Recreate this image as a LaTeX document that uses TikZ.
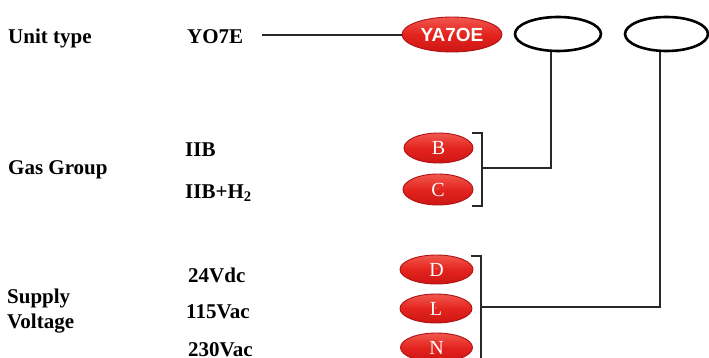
\documentclass[tikz,border=0pt]{standalone}
\usepackage{fontspec}
\setmainfont{Liberation Serif}
\newfontfamily\ovalsans{Liberation Sans}
\usetikzlibrary{shapes.geometric}
\definecolor{ovalred}{RGB}{228,36,30}
\definecolor{ovaltop}{RGB}{240,88,78}
\definecolor{ovalbot}{RGB}{205,22,20}
\definecolor{ovalrim}{RGB}{175,18,18}
\definecolor{linegray}{RGB}{40,40,40}
\tikzset{
  lbl/.style={anchor=base west, inner sep=0pt, font=\fontsize{21}{24}\selectfont\bfseries},
  redoval/.style={ellipse, inner sep=0pt, draw=ovalrim, line width=0.9pt,
    top color=ovaltop, bottom color=ovalbot, middle color=ovalred,
    text=white, font=\fontsize{20}{22}\selectfont,
    path picture={\draw[white,opacity=.55,line width=0.9pt]
      ([yshift=1pt]path picture bounding box.center) ++(200:0.45\pgfkeysvalueof{/pgf/minimum width} and 0.38\pgfkeysvalueof{/pgf/minimum height})
      arc[start angle=200,end angle=340,x radius=0.45\pgfkeysvalueof{/pgf/minimum width},y radius=0.38\pgfkeysvalueof{/pgf/minimum height}];}},
  blankoval/.style={ellipse, draw=black, line width=2.6pt, inner sep=0pt},
  conn/.style={draw=linegray, line width=1.3pt}
}
\begin{document}
\begin{tikzpicture}[x=1pt,y=-1pt]
\useasboundingbox[fill=white] (0,0) rectangle (709,358);
% left labels
\node[lbl] (unit) at (8,44) {Unit type};
\node[lbl] (gas) at (8,175) {Gas Group};
\node[lbl] (sup1) at (7,303) {Supply};
\node[lbl] (sup2) at (7,328) {Voltage};
% middle values
\node[lbl] (yo7e) at (187,44) {YO7E};
\node[lbl] (iib) at (185,157) {IIB};
\node[lbl] (iibh) at (185,198) {IIB+H\textsubscript{2}};
\node[lbl] (v24) at (188,282) {24Vdc};
\node[lbl] (v115) at (186,318) {115Vac};
\node[lbl, text depth=0pt] (v230) at (188,356.5) {230Vac};
% ovals
\node[redoval, minimum width=100pt, minimum height=35pt, font=\ovalsans\fontsize{19}{20}\selectfont\bfseries] (ya) at (452,34.5) {YA7OE};
\node[blankoval, minimum width=86pt, minimum height=34pt] (e1) at (558,34) {};
\node[blankoval, minimum width=83pt, minimum height=34pt] (e2) at (666.5,34) {};
\node[redoval, minimum width=69pt, minimum height=30pt] (ob) at (438.5,148) {B};
\node[redoval, minimum width=70pt, minimum height=31pt] (oc) at (438,189.5) {C};
\node[redoval, minimum width=73pt, minimum height=29pt] (od) at (436.5,269.5) {D};
\node[redoval, minimum width=72pt, minimum height=29pt] (ol) at (436,308.5) {L};
\node[redoval, minimum width=72pt, minimum height=29pt] (on) at (436.5,347.5) {N};
% connectors
\coordinate (lstart) at (262,35);
\draw[conn] (lstart) -- (ya.west |- lstart);
\coordinate (gb) at (482,168);
\draw[conn] (472,133) -- (482,133) -- (482,206) -- (472,206);
\draw[conn] (gb) -| ([xshift=-7pt]e1.south);
\coordinate (vb) at (481,307);
\draw[conn] (471,256) -- (481,256) -- (481,362);
\draw[conn] (vb) -| ([xshift=-6.5pt]e2.south);
\end{tikzpicture}
\end{document}
